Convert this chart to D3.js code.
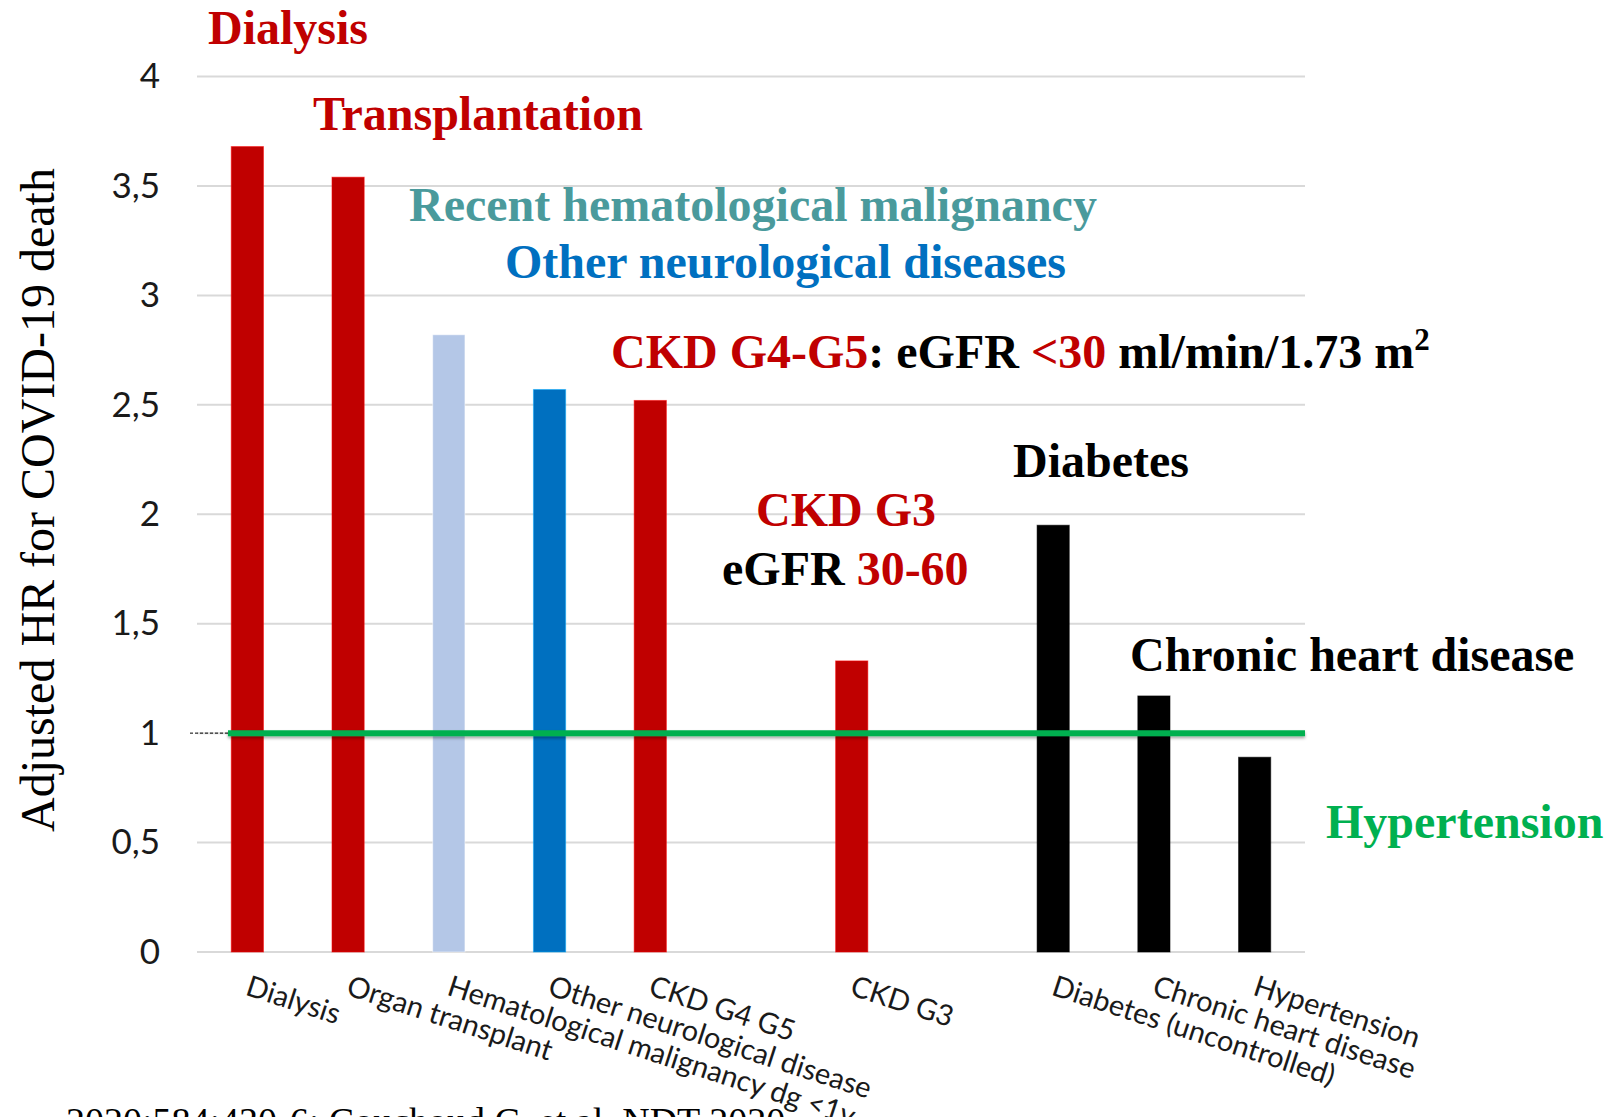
<!DOCTYPE html>
<html>
<head>
<meta charset="utf-8">
<script src="https://cdn.jsdelivr.net/npm/d3@7"></script>
<style>
  body { margin: 0; background: #fff; }
  svg { display: block; }
</style>
</head>
<body>
<div id="chart"></div>
<script>
// categories (empty strings are the gaps left in the original chart)
const categories = ["Dialysis", "Organ transplant", "Hematological malignancy dg <1y",
    "Other neurological disease", "CKD G4 G5", "", "CKD G3", "",
    "Diabetes (uncontrolled)", "Chronic heart disease", "Hypertension"];
const values = [3.68, 3.54, 2.82, 2.57, 2.52, null, 1.33, null, 1.95, 1.17, 0.89];
const barColors = ["#C00000", "#C00000", "#B4C7E7", "#0070C0", "#C00000", null,
    "#C00000", null, "#000000", "#000000", "#000000"];
const yTicks = [0, 0.5, 1, 1.5, 2, 2.5, 3, 3.5, 4];
const refValue = 1;
const yTitle = "Adjusted HR for COVID-19 death";
const citation = "2020;584:430-6; Couchoud C, et al. NDT 2020";

const RED = "#C00000", BLACK = "#000000", TEAL = "#4A9A9C", BLUE = "#0070C0", GREEN = "#00B050";
// annotation texts, each as coloured pieces
const notes = [
    [["Dialysis", RED]],
    [["Transplantation", RED]],
    [["Recent hematological malignancy", TEAL]],
    [["Other neurological diseases", BLUE]],
    [["CKD G4-G5", RED], [": eGFR ", BLACK], ["<30", RED], [" ml/min/1.73 m", BLACK], ["2", BLACK, "sup"]],
    [["Diabetes", BLACK]],
    [["CKD G3", RED]],
    [["eGFR ", BLACK], ["30-60", RED]],
    [["Chronic heart disease", BLACK]],
    [["Hypertension", GREEN]]
];

const W = 1608, H = 1117;
const svg = d3.select("#chart").append("svg")
    .attr("width", W)
    .attr("height", H);

const x = d3.scaleBand()
    .domain(d3.range(categories.length))
    .range([197, 1305])
    .paddingInner(0.68)
    .paddingOuter(0.34);
const y = d3.scaleLinear().domain([0, 4]).range([952, 76.5]);

// gridlines
svg.append("g").selectAll("line")
    .data(yTicks).enter().append("line")
    .attr("x1", 197).attr("x2", 1305)
    .attr("y1", d => y(d)).attr("y2", d => y(d))
    .style("stroke", "#D9D9D9")
    .style("stroke-width", 2);

// y axis labels
const yAxis = svg.append("g")
    .attr("transform", "translate(197,0)")
    .call(d3.axisLeft(y).tickValues(yTicks).tickSize(0).tickPadding(37)
        .tickFormat(d => String(d).replace(".", ",")));
yAxis.select(".domain").remove();
yAxis.selectAll("text")
    .style("font-family", "Lato, 'Open Sans', sans-serif")
    .style("font-size", "35px")
    .style("fill", "#1a1a1a");

svg.append("text")
    .attr("transform", "translate(54," + 500 + ") rotate(-90)")
    .attr("text-anchor", "middle")
    .style("font-family", "'Liberation Serif', 'Times New Roman', serif")
    .style("font-size", "48px")
    .style("fill", "#000")
    .text(yTitle);

// bars
const barData = values.map((v, i) => ({i: i, v: v, c: barColors[i]})).filter(d => d.v !== null);
svg.append("g").selectAll("rect")
    .data(barData).enter().append("rect")
    .attr("x", d => x(d.i))
    .attr("y", d => y(d.v))
    .attr("width", x.bandwidth())
    .attr("height", d => y(0) - y(d.v))
    .style("fill", d => d.c)
    .style("stroke", d => d3.color(d.c).brighter(1.2))
    .style("stroke-opacity", 0.5)
    .style("stroke-width", 1);

// category labels, rotated
svg.append("g").selectAll("text")
    .data(categories.map((c, i) => ({c: c, i: i})).filter(d => d.c !== ""))
    .enter().append("text")
    .attr("transform", d => "translate(" + (x(d.i) + x.bandwidth() / 2 + 4) + ",973) rotate(18)")
    .attr("dy", "0.78em")
    .style("font-family", "Lato, 'Open Sans', sans-serif")
    .style("font-size", "29px")
    .style("fill", "#1a1a1a")
    .text(d => d.c);

// reference line at HR = 1
const defs = svg.append("defs");
defs.append("filter").attr("id", "shadow")
    .attr("filterUnits", "userSpaceOnUse")
    .attr("x", 200).attr("y", y(refValue) - 20).attr("width", 1130).attr("height", 40)
    .append("feDropShadow")
    .attr("dx", 0).attr("dy", 2).attr("stdDeviation", 1.5)
    .attr("flood-color", "#000").attr("flood-opacity", 0.35);

svg.append("line")
    .attr("x1", 190).attr("x2", 228)
    .attr("y1", y(refValue)).attr("y2", y(refValue))
    .style("stroke", "#000")
    .style("stroke-width", 1)
    .style("stroke-dasharray", "3,2");
svg.append("line")
    .attr("x1", 228).attr("x2", 1305)
    .attr("y1", y(refValue)).attr("y2", y(refValue))
    .style("stroke", GREEN)
    .style("stroke-width", 6)
    .attr("filter", "url(#shadow)");

// annotation placement (left x, baseline y)
const notePos = [[208, 44], [313, 130], [409, 221], [505, 278], [611, 368],
    [1013, 477], [756, 526], [722, 585], [1130, 671], [1326, 838]];

const noteG = svg.append("g")
    .style("font-family", "'Liberation Serif', 'Times New Roman', serif")
    .style("font-weight", "bold")
    .style("font-size", "48px");
notes.forEach((parts, k) => {
    const t = noteG.append("text")
        .attr("x", notePos[k][0])
        .attr("y", notePos[k][1]);
    parts.forEach(p => {
        const ts = t.append("tspan").style("fill", p[1]).text(p[0]);
        if (p[2] === "sup") {
            ts.attr("dy", -18).style("font-size", "31px");
        }
    });
});

// source line, clipped by the bottom edge like the original
svg.append("text")
    .attr("x", 66)
    .attr("y", 1134)
    .style("font-family", "'Liberation Serif', 'Times New Roman', serif")
    .style("font-size", "38px")
    .style("fill", "#000")
    .text(citation);
</script>
</body>
</html>
